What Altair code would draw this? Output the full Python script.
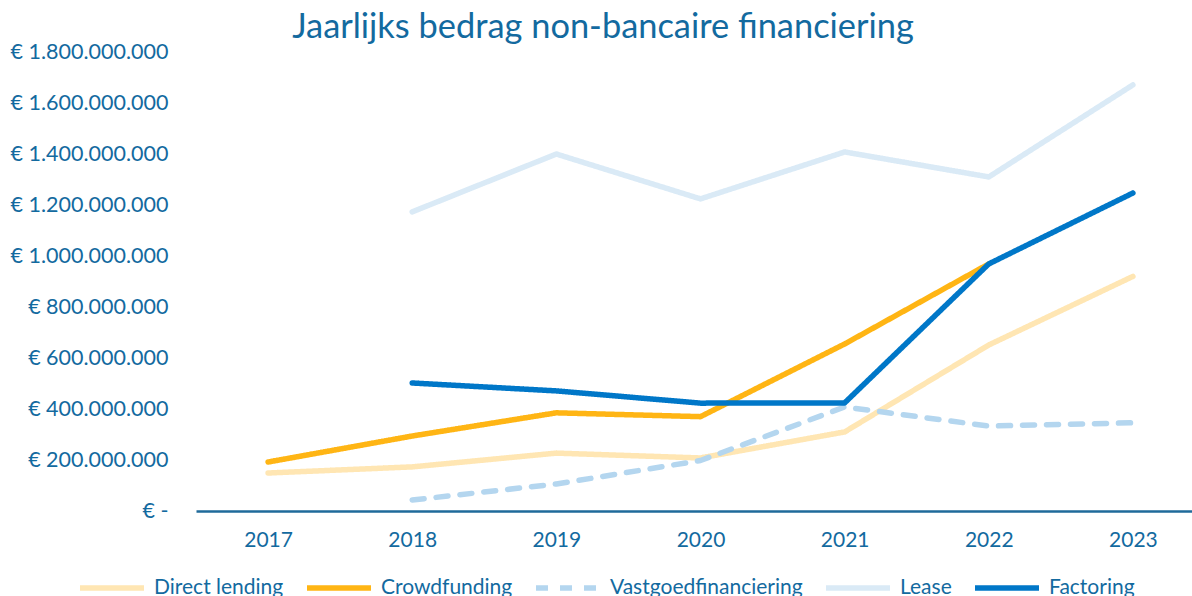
import altair as alt
import pandas as pd

years = [2017, 2018, 2019, 2020, 2021, 2022, 2023]
series_names = ["Direct lending", "Crowdfunding", "Vastgoedfinanciering", "Lease", "Factoring"]
direct_lending = [149e6, 173e6, 227e6, 208e6, 310e6, 651e6, 920e6]
crowdfunding = [192e6, 294e6, 385e6, 370e6, 655e6, 969e6, None]
vastgoed = [None, 43e6, 106e6, 198e6, 408e6, 333e6, 346e6]
lease = [None, 1173e6, 1400e6, 1224e6, 1408e6, 1310e6, 1671e6]
factoring = [None, 502e6, 471e6, 423e6, 424e6, 969e6, 1247e6]
colors = ["#FFE6B3", "#FFB514", "#B4D6EF", "#DAEAF6", "#0077C8"]
dashes = [[1, 0], [1, 0], [12, 12], [1, 0], [1, 0]]
y_ticks = [0, 2e8, 4e8, 6e8, 8e8, 1e9, 1.2e9, 1.4e9, 1.6e9, 1.8e9]

TEXT = "#136A9F"
FONT = "Lato"

rows = []
for name, vals in zip(series_names, [direct_lending, crowdfunding, vastgoed, lease, factoring]):
    for yr, v in zip(years, vals):
        if v is not None:
            rows.append({"jaar": yr, "bedrag": v, "serie": name})
df = pd.DataFrame(rows)

color_scale = alt.Scale(domain=series_names, range=colors)
dash_scale = alt.Scale(domain=series_names, range=dashes)

x_enc = alt.X(
    "jaar:Q",
    scale=alt.Scale(domain=[2016.5, 2023.41], nice=False, zero=False),
    axis=alt.Axis(
        values=years, format="d", title=None, grid=False, ticks=False,
        domainColor="#1F6A9A", domainWidth=2.5, labelFontSize=21, labelColor=TEXT,
        labelFont=FONT, labelPadding=18,
    ),
)
y_enc = alt.Y(
    "bedrag:Q",
    scale=alt.Scale(domain=[0, 1.8e9], nice=False),
    axis=alt.Axis(
        values=y_ticks, title=None, grid=False, ticks=False, domain=False,
        labelFontSize=21.5, labelColor=TEXT, labelFont=FONT, labelPadding=28,
        labelExpr="datum.value == 0 ? '€ -\u00a0\u00a0\u00a0' : '€ ' + replace(format(datum.value, ','), regexp(',', 'g'), '.')",
    ),
)
legend = alt.Legend(
    title=None, orient="none", legendX=-119, legendY=501, direction="horizontal",
    symbolType="stroke", symbolSize=4096, symbolStrokeWidth=5.5,
    labelFontSize=21, labelColor=TEXT, labelFont=FONT, labelOffset=7,
    columnPadding=12, labelLimit=400,
)

layers = []
for name in series_names:
    layers.append(
        alt.Chart(df[df["serie"] == name])
        .mark_line(strokeWidth=5.5, strokeCap="round", strokeJoin="round")
        .encode(
            x=x_enc,
            y=y_enc,
            color=alt.Color("serie:N", scale=color_scale, legend=legend),
            strokeDash=alt.StrokeDash("serie:N", scale=dash_scale, legend=legend),
        )
    )

chart = (
    alt.layer(*layers)
    .properties(
        width=996,
        height=459,
        padding={"left": 196, "top": 52, "right": 0, "bottom": 85},
        autosize=alt.AutoSizeParams(type="none"),
        title=alt.Title(
            "Jaarlijks bedrag non-bancaire financiering",
            fontSize=34.4, font=FONT, fontWeight="normal", color=TEXT,
            anchor="middle", dx=-91, dy=41, offset=10, baseline="alphabetic",
        ),
    )
    .configure_view(stroke=None)
)

chart.save("out.html", embed_options={"renderer": "svg", "actions": False})
